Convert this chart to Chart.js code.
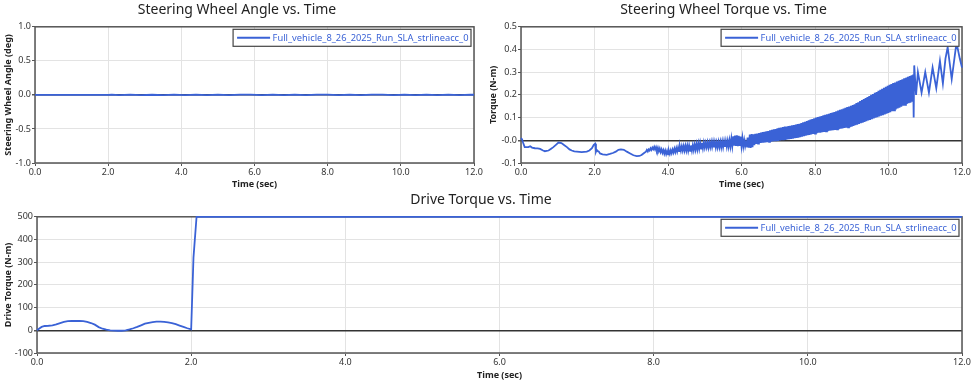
<!DOCTYPE html>
<html><head><meta charset="utf-8">
<script src="https://cdn.jsdelivr.net/npm/chart.js@4.4.1/dist/chart.umd.min.js"></script>
<style>
html,body{margin:0;padding:0;background:#fff;width:975px;height:381px;overflow:hidden}
.box{position:absolute}
</style></head><body>
<div class="box" style="left:0;top:0;width:485px;height:190px"><canvas id="c1"></canvas></div>
<div class="box" style="left:485px;top:0;width:490px;height:190px"><canvas id="c2"></canvas></div>
<div class="box" style="left:0;top:190px;width:975px;height:191px"><canvas id="c3"></canvas></div>
<script>
// ---------- data ----------
const seriesName = "Full_vehicle_8_26_2025_Run_SLA_strlineacc_0";
const xTickLabels = ["0.0","2.0","4.0","6.0","8.0","10.0","12.0"];

const angleTime  = [0, 2.0, 2.1, 2.3, 2.6, 2.9, 3.2, 3.5, 3.8, 4.1, 4.4, 4.7, 5.0, 5.3, 5.6, 5.9, 6.2, 6.5, 6.8, 7.1, 7.4, 7.7, 8.0, 8.3, 8.6, 8.9, 9.2, 9.5, 9.8, 10.1, 10.4, 10.7, 11.0, 11.3, 11.6, 11.9, 12.0];
const angleValue = [0, 0, 0.003, -0.002, 0.003, -0.003, 0.002, -0.002, 0.003, -0.002, 0.004, -0.003, 0.003, -0.003, 0.004, 0.005, -0.004, 0.003, -0.003, 0.004, -0.003, 0.004, 0.003, -0.003, 0.004, -0.003, 0.003, 0.004, -0.003, 0.005, -0.003, 0.004, -0.002, 0.004, -0.003, 0.003, 0.002];

const torqueTime = [
 0, 0.03, 0.06, 0.1, 0.15, 0.2, 0.25, 0.3, 0.38, 0.45, 0.52, 0.6, 0.65, 0.75, 0.82, 0.88, 0.95, 1.02, 1.1, 1.18, 1.25, 1.32, 1.38, 1.45, 1.52, 1.65, 1.79, 1.86, 1.93, 1.98, 2.02, 2.04, 2.06, 2.09, 2.12, 2.15, 2.22, 2.33, 2.42, 2.5, 2.58, 2.65, 2.72, 2.8, 2.88, 2.97, 3.06, 3.15, 3.22, 3.28, 3.35,
 3.400, 3.425, 3.450, 3.475, 3.500, 3.525, 3.550, 3.575, 3.600, 3.625, 3.650, 3.675, 3.700, 3.725, 3.750, 3.775, 3.800, 3.825, 3.850, 3.875,
 3.900, 3.925, 3.950, 3.975, 4.000, 4.025, 4.050, 4.075, 4.100, 4.125, 4.150, 4.175, 4.200, 4.225, 4.250, 4.275, 4.300, 4.325, 4.350, 4.375,
 4.400, 4.425, 4.450, 4.475, 4.500, 4.525, 4.550, 4.575, 4.600, 4.625, 4.650, 4.675, 4.700, 4.725, 4.750, 4.775, 4.800, 4.825, 4.850, 4.875,
 4.900, 4.925, 4.950, 4.975,
 5.000, 5.025, 5.050, 5.075, 5.100, 5.125, 5.150, 5.175, 5.200, 5.225, 5.250, 5.275, 5.300, 5.325, 5.350, 5.375, 5.400, 5.425, 5.450, 5.475,
 5.500, 5.525, 5.550, 5.575, 5.600, 5.625, 5.650, 5.675, 5.700, 5.725, 5.750, 5.775, 5.800, 5.825, 5.850, 5.875, 5.900, 5.925, 5.950, 5.975,
 6.000, 6.025, 6.050, 6.075, 6.100, 6.125, 6.150, 6.175, 6.200, 6.225, 6.250, 6.275, 6.300, 6.325, 6.350, 6.375, 6.400, 6.425, 6.450, 6.475,
 6.500, 6.525, 6.550, 6.575, 6.600, 6.625, 6.650, 6.675, 6.700, 6.725, 6.750, 6.775, 6.800, 6.825, 6.850, 6.875, 6.900, 6.925, 6.950, 6.975,
 7.000, 7.025, 7.050, 7.075, 7.100, 7.125, 7.150, 7.175, 7.200, 7.225, 7.250, 7.275, 7.300, 7.325, 7.350, 7.375, 7.400, 7.425, 7.450, 7.475,
 7.500, 7.525, 7.550, 7.575, 7.600, 7.625, 7.650, 7.675, 7.700, 7.725, 7.750, 7.775, 7.800, 7.825, 7.850, 7.875, 7.900, 7.925, 7.950, 7.975,
 8.000, 8.025, 8.050, 8.075, 8.100, 8.125, 8.150, 8.175, 8.200, 8.225, 8.250, 8.275, 8.300, 8.325, 8.350, 8.375, 8.400, 8.425, 8.450, 8.475,
 8.500, 8.525, 8.550, 8.575, 8.600, 8.625, 8.650, 8.675, 8.700, 8.725, 8.750, 8.775, 8.800, 8.825, 8.850, 8.875, 8.900, 8.925, 8.950, 8.975,
 9.000, 9.025, 9.050, 9.075, 9.100, 9.125, 9.150, 9.175, 9.200, 9.225, 9.250, 9.275, 9.300, 9.325, 9.350, 9.375, 9.400, 9.425, 9.450, 9.475,
 9.500, 9.525, 9.550, 9.575, 9.600, 9.625, 9.650, 9.675, 9.700, 9.725, 9.750, 9.775, 9.800, 9.825, 9.850, 9.875, 9.900, 9.925, 9.950, 9.975,
 10.000, 10.025, 10.050, 10.075, 10.100, 10.125, 10.150, 10.175, 10.200, 10.225, 10.250, 10.275, 10.300, 10.325, 10.350, 10.375, 10.400, 10.425, 10.450, 10.475,
 10.500, 10.525, 10.550, 10.575, 10.600, 10.625, 10.650, 10.670,
 10.685, 10.700, 10.750, 10.800, 10.900, 11.000, 11.100, 11.200, 11.300, 11.400, 11.480, 11.550, 11.610, 11.720, 11.850, 11.940, 12.0];
const torqueValue = [
 0.01, 0.004, -0.012, -0.03, -0.03, -0.03, -0.026, -0.032, -0.035, -0.036, -0.038, -0.045, -0.048, -0.045, -0.037, -0.03, -0.02, -0.01, -0.012, -0.022, -0.03, -0.04, -0.045, -0.049, -0.05, -0.052, -0.05, -0.045, -0.035, -0.02, -0.015, -0.05, -0.042, -0.048, -0.05, -0.058, -0.062, -0.064, -0.06, -0.056, -0.05, -0.042, -0.04, -0.042, -0.05, -0.058, -0.066, -0.07, -0.069, -0.065, -0.056,
 -0.050, -0.042, -0.049, -0.040, -0.045, -0.035, -0.042, -0.032, -0.039, -0.029, -0.041, -0.030, -0.044, -0.032, -0.048, -0.036, -0.052, -0.040, -0.055, -0.043,
 -0.059, -0.045, -0.061, -0.047, -0.062, -0.046, -0.060, -0.044, -0.057, -0.041, -0.054, -0.037, -0.052, -0.034, -0.050, -0.031, -0.048, -0.028, -0.046, -0.026,
 -0.045, -0.025, -0.045, -0.024, -0.045, -0.023, -0.046, -0.023, -0.047, -0.023, -0.045, -0.021, -0.043, -0.019, -0.041, -0.016, -0.040, -0.014, -0.038, -0.012,
 -0.037, -0.011, -0.035, -0.010,
 -0.032, -0.011, -0.031, -0.009, -0.032, -0.01, -0.03, -0.007, -0.029, -0.006, -0.031, -0.008, -0.032, -0.009, -0.031, -0.007, -0.03, -0.006, -0.031, -0.005,
 -0.03, -0.004, -0.029, -0.003, -0.028, -0.002, -0.028, 0.0, -0.027, 0.008, -0.025, 0.018, -0.024, 0.021, -0.025, 0.022, -0.026, 0.02, -0.025, 0.016,
 -0.026, 0.01, -0.027, 0.0, -0.026, -0.006, -0.028, 0.012, -0.033, 0.025, -0.034, 0.027, -0.03, 0.026, -0.022, 0.028, -0.016, 0.03, -0.014, 0.032,
 -0.012, 0.034, -0.011, 0.036, -0.01, 0.037, -0.009, 0.039, -0.008, 0.041, -0.007, 0.044, -0.006, 0.046, -0.005, 0.048, -0.004, 0.05, -0.004, 0.053,
 -0.003, 0.055, -0.001, 0.056, 0.0, 0.058, 0.001, 0.06, 0.002, 0.061, 0.004, 0.063, 0.005, 0.064, 0.006, 0.066, 0.007, 0.067, 0.009, 0.069,
 0.01, 0.071, 0.012, 0.073, 0.014, 0.076, 0.016, 0.079, 0.018, 0.082, 0.02, 0.085, 0.022, 0.088, 0.024, 0.091, 0.026, 0.094, 0.028, 0.097,
 0.03, 0.1, 0.031, 0.102, 0.033, 0.105, 0.034, 0.107, 0.036, 0.11, 0.037, 0.112, 0.039, 0.115, 0.04, 0.117, 0.042, 0.12, 0.043, 0.122,
 0.045, 0.125, 0.046, 0.128, 0.048, 0.131, 0.049, 0.134, 0.051, 0.137, 0.052, 0.14, 0.054, 0.143, 0.055, 0.146, 0.057, 0.149, 0.058, 0.152,
 0.06, 0.155, 0.063, 0.159, 0.066, 0.164, 0.069, 0.168, 0.072, 0.173, 0.075, 0.177, 0.078, 0.182, 0.081, 0.186, 0.084, 0.191, 0.087, 0.195,
 0.09, 0.2, 0.093, 0.204, 0.096, 0.209, 0.099, 0.213, 0.102, 0.218, 0.105, 0.222, 0.108, 0.227, 0.111, 0.231, 0.114, 0.236, 0.117, 0.24,
 0.12, 0.245, 0.124, 0.248, 0.128, 0.252, 0.132, 0.255, 0.136, 0.259, 0.14, 0.262, 0.144, 0.266, 0.148, 0.269, 0.152, 0.273, 0.156, 0.276,
 0.16, 0.28, 0.163, 0.283, 0.166, 0.286, 0.17, 0.29,
 0.10, 0.33, 0.20, 0.30, 0.21, 0.30, 0.21, 0.32, 0.23, 0.35, 0.25, 0.36, 0.41, 0.27, 0.43, 0.36, 0.32];

const driveTime  = [0, 0.03, 0.06, 0.1, 0.15, 0.2, 0.25, 0.3, 0.35, 0.4, 0.45, 0.5, 0.55, 0.6, 0.65, 0.7, 0.75, 0.8, 0.85, 0.9, 0.95, 1.0, 1.05, 1.1, 1.15, 1.2, 1.25, 1.3, 1.35, 1.4, 1.45, 1.5, 1.55, 1.6, 1.65, 1.7, 1.75, 1.8, 1.85, 1.9, 1.95, 2.0, 2.03, 2.07, 12.0];
const driveValue = [0, 8, 15, 19, 20, 22, 26, 32, 37, 40, 41, 41, 41, 40, 37, 32, 25, 14, 7, 3, 0, -1, -2, -2, 0, 4, 9, 15, 22, 29, 33, 36, 38, 38, 37, 35, 32, 27, 21, 15, 9, 4, 320, 500, 500];

// ---------- styling / charts ----------
const FONT = "'Noto Sans', 'Open Sans', sans-serif";
const BLUE = '#3a62d6';
Chart.defaults.font.family = FONT;
Chart.defaults.color = '#333';

function pairs(xs, ys){ return xs.map((x,i)=>({x:x, y:ys[i]})); }

const framePlugin = {
  id: 'frameLegend',
  beforeDatasetsDraw(chart){
    const {ctx, chartArea:a} = chart;
    ctx.save();
    ctx.strokeStyle = '#555';
    ctx.lineWidth = 1.5;
    ctx.strokeRect(a.left, a.top, a.right - a.left, a.bottom - a.top);
    ctx.restore();
  },
  afterDatasetsDraw(chart){
    const {ctx, chartArea:a} = chart;
    ctx.save();
    ctx.font = "9.3px " + FONT;
    const tw = ctx.measureText(seriesName).width;
    const w = tw + 42, h = 17;
    const x0 = a.right - 3 - w, y0 = a.top + 2.5;
    ctx.fillStyle = '#fff';
    ctx.fillRect(x0, y0, w, h);
    ctx.strokeStyle = '#444';
    ctx.lineWidth = 1.2;
    ctx.strokeRect(x0, y0, w, h);
    ctx.strokeStyle = BLUE;
    ctx.lineWidth = 2;
    ctx.beginPath();
    ctx.moveTo(x0 + 4, y0 + h/2);
    ctx.lineTo(x0 + 37, y0 + h/2);
    ctx.stroke();
    ctx.fillStyle = BLUE;
    ctx.textBaseline = 'middle';
    ctx.textAlign = 'left';
    ctx.fillText(seriesName, x0 + 39.5, y0 + h/2 + 0.5);
    ctx.restore();
  }
};

function makeChart(id, title, data, yTitle, yMin, yMax, yStep, yFmt, yWidth, padRight, xHeight){
  return new Chart(document.getElementById(id), {
    type: 'line',
    data: { datasets: [{ label: seriesName, data: data, borderColor: BLUE, borderWidth: 1.8, pointRadius: 0, tension: 0, fill: false, clip: 2 }] },
    options: {
      responsive: true, maintainAspectRatio: false, animation: false,
      layout: { padding: { left: 0, right: padRight, top: 0, bottom: 0 } },
      plugins: {
        legend: { display: false },
        tooltip: { enabled: false },
        title: { display: true, text: title, color: '#222', font: { size: 14, weight: 'normal', family: FONT }, padding: { top: 2, bottom: 8 } }
      },
      scales: {
        x: {
          type: 'linear', min: 0, max: 12,
          afterBuildTicks: s => { s.ticks = xTickLabels.map(v => ({ value: parseFloat(v) })); },
          ticks: { callback: (v) => xTickLabels.find(l => parseFloat(l) === v) || '', font: { size: 9 }, color: '#333', padding: 1, maxRotation: 0, autoSkip: false },
          grid: { color: '#e3e3e3', tickColor: '#555', tickLength: 3 },
          border: { display: false },
          title: { display: true, text: 'Time (sec)', font: { size: 9, weight: 'bold' }, color: '#222', padding: { top: 0, bottom: 0 } },
          afterFit: s => { s.height = xHeight; }
        },
        y: {
          min: yMin, max: yMax,
          ticks: { stepSize: yStep, callback: yFmt, font: { size: 9 }, color: '#333', padding: 1 },
          grid: { color: c => (c.tick && Math.abs(c.tick.value) < 1e-9) ? '#333' : '#e3e3e3', lineWidth: c => (c.tick && Math.abs(c.tick.value) < 1e-9) ? 1.5 : 1, tickColor: '#555', tickLength: 3 },
          border: { display: false },
          title: { display: true, text: yTitle, font: { size: 9, weight: 'bold' }, color: '#222', padding: { top: 3, bottom: 0 } },
          afterFit: s => { s.width = yWidth; }
        }
      }
    },
    plugins: [framePlugin]
  });
}

makeChart('c1', 'Steering Wheel Angle vs. Time', pairs(angleTime, angleValue), 'Steering Wheel Angle (deg)', -1, 1, 0.5, v => v.toFixed(1), 35, 11, 27);
makeChart('c2', 'Steering Wheel Torque vs. Time', pairs(torqueTime, torqueValue), 'Torque (N-m)', -0.1, 0.5, 0.1, v => v.toFixed(1), 36, 13, 27);
makeChart('c3', 'Drive Torque vs. Time', pairs(driveTime, driveValue), 'Drive Torque (N-m)', -100, 500, 100, v => Math.round(v).toString(), 37, 13, 28);
</script>
</body></html>
